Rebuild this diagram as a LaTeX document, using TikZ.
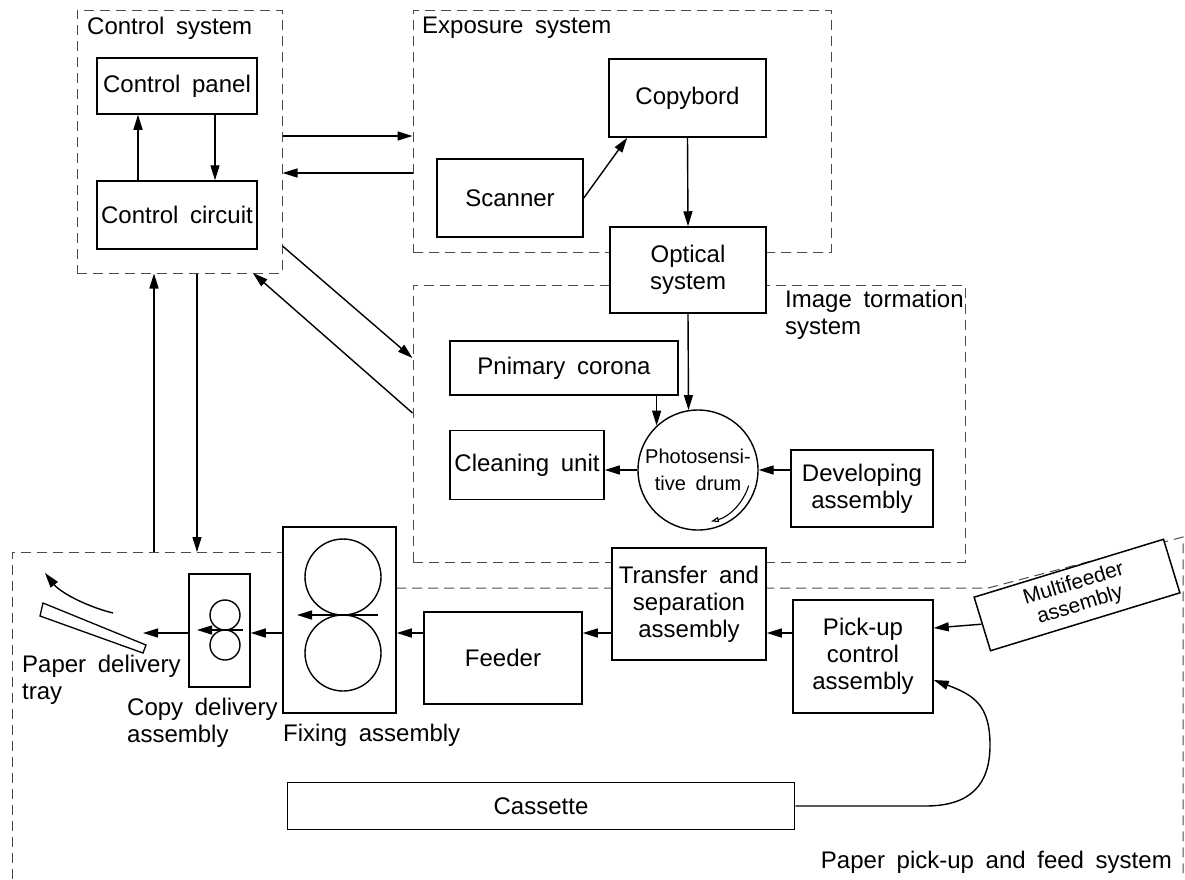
\documentclass[tikz,border=0pt]{standalone}
\usepackage{fontspec}
\setmainfont{Liberation Sans}[WordSpace=1.75]
\usetikzlibrary{arrows.meta,calc}

\begin{document}
\begin{tikzpicture}[x=1pt,y=-1pt,
  every node/.style={font=\fontsize{24}{27}\selectfont, inner sep=0pt},
  box/.style={draw, line width=1.5pt, fill=white, align=center},
  frame/.style={draw=black!70, dash pattern=on 10pt off 6pt, line width=1pt},
  flow/.style={-{Triangle[length=15pt,width=9pt]}, line width=1.4pt},
  roller/.style={draw, circle, line width=1.4pt}]
\useasboundingbox (0,0) rectangle (1185,879);

% system frames
\node[frame, minimum width=205pt, minimum height=263pt] (ctrlsys) at (179.5,141.5) {};
\node[frame, minimum width=418pt, minimum height=242pt] (expsys) at (622,131) {};
\node[frame, minimum width=552pt, minimum height=277pt] (imgsys) at (689,423.5) {};
\coordinate (feedA) at (12,879);
\coordinate (feedB) at (12,552);
\coordinate (feedC) at (283,552);
\coordinate (feedD) at (396,588);
\coordinate (feedE) at (988,588);
\coordinate (feedF) at (1183,537);
\coordinate (feedG) at (1183,879);
\draw[frame] (feedA) -- (feedB) -- (feedC);
\draw[frame] (feedD) -- (feedE) -- (feedF) -- (feedG);

\node[anchor=west] (ctrllbl) at (87,28) {Control system};
\node[anchor=west] (explbl) at (422,28) {Exposure system};
\node[anchor=west, align=left] (imglbl) at (785,314.5) {Image tormation\\system};
\node[anchor=east] (feedlbl) at (1172,862) {Paper pick-up and feed system};

% control system
\node[box, minimum width=160pt, minimum height=56pt] (panel) at (177,86) {Control panel};
\node[box, minimum width=160pt, minimum height=68pt] (circuit) at (177,215) {Control circuit};
\draw[flow] (circuit.north -| 138,0) -- (panel.south -| 138,0);
\draw[flow] (panel.south -| 215,0) -- (circuit.north -| 215,0);

% exposure system
\node[box, minimum width=157pt, minimum height=78pt] (copybord) at (687.5,98) {Copybord};
\node[box, minimum width=146pt, minimum height=78pt] (scanner) at (510,198) {Scanner};
\node[box, minimum width=156pt, minimum height=86pt] (optical) at (688,270) {Optical\\system};
\draw[flow] (scanner.east) -- ([xshift=19pt]copybord.south west);
\draw[flow] (copybord.south) -- (optical.north);

% image formation system
\node[box, minimum width=228pt, minimum height=54pt] (corona) at (564,368) {Pnimary corona};
\node[box, minimum width=154pt, minimum height=69pt] (cleaning) at (527,465) {Cleaning unit};
\node[draw, circle, line width=1.4pt, minimum size=120pt, align=center,
  font=\fontsize{20}{27}\selectfont] (drum) at (698,470) {Photosensi-\\tive drum};
\node[box, minimum width=142pt, minimum height=77pt] (developing) at (862,488.5) {Developing\\assembly};
\draw[flow] (optical.south) -- (drum.99);
\draw[flow] (corona.south -| drum.133) -- (drum.133);
\draw[flow] (drum.west) -- (drum.west -| cleaning.east);
\draw[flow] (developing.west |- drum.east) -- (drum.east);
\draw[-{Triangle[length=8pt,width=5pt,open]}, line width=1.1pt]
  ([shift={(-17:53pt)}]drum.center) arc[start angle=-17, end angle=-76, radius=53pt];

% paper pick-up and feed system
\node[box, minimum width=154pt, minimum height=112pt] (transfer) at (689,604) {Transfer and\\separation\\assembly};
\node[box, minimum width=140pt, minimum height=113pt] (pickup) at (863,656.5) {Pick-up\\control\\assembly};
\node[box, minimum width=158pt, minimum height=92pt] (feeder) at (503,658) {Feeder};
\node[box, minimum width=113pt, minimum height=186pt] (fixing) at (339.5,620) {};
\node[box, minimum width=61pt, minimum height=113pt] (copydel) at (219.5,630.5) {};
\node[box, rotate=17, minimum width=198pt, minimum height=56pt,
  font=\fontsize{21}{22}\selectfont] (multi) at (1077,595) {Multifeeder\\assembly};
\node[box, minimum width=507pt, minimum height=47pt] (cassette) at (541,806) {Cassette};

\node[roller, minimum size=76pt] (fixtop) at (343,577) {};
\node[roller, minimum size=76pt] (fixbot) at (343,653) {};
\node[roller, minimum size=30pt] (deltop) at (225,615) {};
\node[roller, minimum size=30pt] (delbot) at (225,645) {};
\coordinate (fixin) at (378,615);
\coordinate (fixout) at (297,615);
\coordinate (delin) at (243,630);
\coordinate (delout) at (197,630);
\draw[flow] (fixin) -- (fixout);
\draw[flow] (delin) -- (delout);

\node[anchor=west, align=left] (traylbl) at (22,680) {Paper delivery\\tray};
\node[anchor=west, align=left] (copylbl) at (127,723) {Copy delivery\\assembly};
\node[anchor=west] (fixlbl) at (283,735) {Fixing assembly};

% delivery tray
\draw[line width=1.3pt] (43,603) -- (146,645) -- (143,653) -- (40,616) -- cycle;
\coordinate (trayin) at (113,613);
\coordinate (trayout) at (45,573);
\draw[flow] (trayin) .. controls (85,606) and (60,592) .. (trayout);

\coordinate (delend) at (143,633);
\draw[flow] (pickup.west |- 0,633) -- (transfer.east |- 0,633);
\draw[flow] (transfer.west |- 0,633) -- (feeder.east |- 0,633);
\draw[flow] (feeder.west |- 0,633) -- (fixing.east |- 0,633);
\draw[flow] (fixing.west |- 0,633) -- (copydel.east |- 0,633);
\draw[flow] (copydel.west |- 0,633) -- (delend);
\draw[flow] (multi.west) -- (pickup.east |- 0,628);
\draw[flow] (cassette.east) -- ++(130,0) .. controls +(45,0) and +(0,40) .. (990,745)
  .. controls +(0,-40) and +(40,15) .. (pickup.east |- 0,680);

% links between the systems
\draw[flow] (ctrlsys.east |- 0,136) -- (expsys.west |- 0,136);
\draw[flow] (expsys.west |- 0,173) -- (ctrlsys.east |- 0,173);
\draw[flow] (ctrlsys.east |- 0,246) -- (imgsys.west |- 0,358);
\draw[flow] (imgsys.west |- 0,413) -- (253,273);
\draw[flow] (feedB -| 154,0) -- (ctrlsys.south -| 154,0);
\draw[flow] (ctrlsys.south -| 197,0) -- (feedB -| 197,0);
\end{tikzpicture}
\end{document}
